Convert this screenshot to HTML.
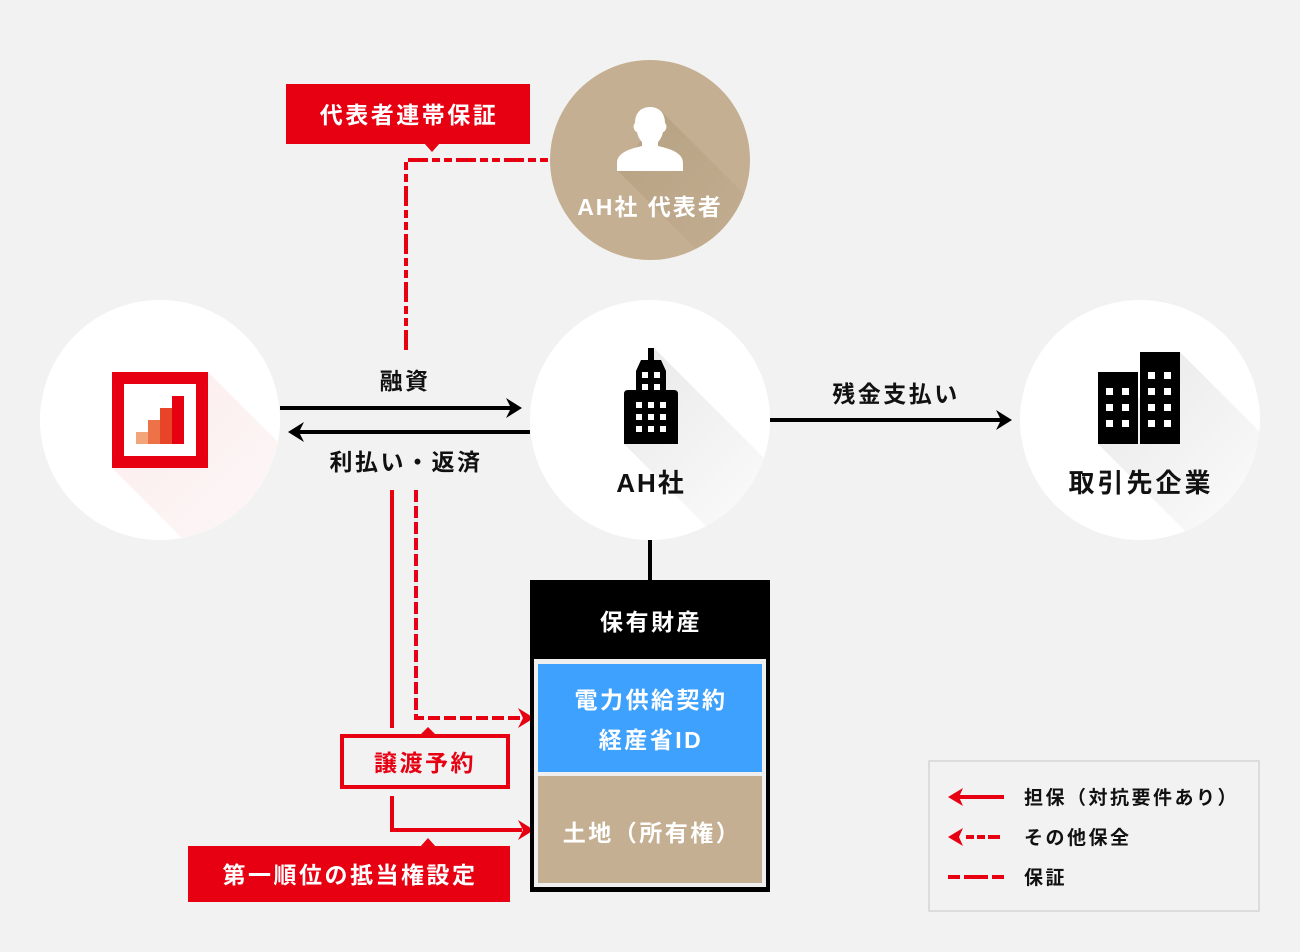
<!DOCTYPE html>
<html><head><meta charset="utf-8"><style>
html,body{margin:0;padding:0;background:#f2f2f2;}
svg{display:block;}
text{font-family:"Liberation Sans","Noto Sans CJK JP",sans-serif;font-weight:700;}
</style></head><body>
<svg width="1300" height="952" viewBox="0 0 1300 952" xmlns="http://www.w3.org/2000/svg">
<defs>
<clipPath id="cL"><circle cx="160" cy="420" r="120"/></clipPath>
<clipPath id="cA"><circle cx="650" cy="420" r="120"/></clipPath>
<clipPath id="cR"><circle cx="1140" cy="420" r="120"/></clipPath>
<clipPath id="cT"><circle cx="650" cy="160" r="100"/></clipPath>
<linearGradient id="gA" gradientUnits="userSpaceOnUse" x1="640" y1="390" x2="770" y2="520"><stop offset="0" stop-color="#ececec"/><stop offset="1" stop-color="#fbfbfb"/></linearGradient>
<linearGradient id="gR" gradientUnits="userSpaceOnUse" x1="1130" y1="390" x2="1260" y2="520"><stop offset="0" stop-color="#ececec"/><stop offset="1" stop-color="#fbfbfb"/></linearGradient>
<linearGradient id="gL" gradientUnits="userSpaceOnUse" x1="160" y1="420" x2="280" y2="540"><stop offset="0" stop-color="#fcefef"/><stop offset="1" stop-color="#fdf8f8"/></linearGradient>
<linearGradient id="gT" gradientUnits="userSpaceOnUse" x1="640" y1="130" x2="740" y2="230"><stop offset="0" stop-color="#b8a385"/><stop offset="1" stop-color="#c1ac8f"/></linearGradient>
</defs>

<!-- circles -->
<circle cx="160" cy="420" r="120" fill="#fff"/>
<circle cx="650" cy="420" r="120" fill="#fff"/>
<circle cx="1140" cy="420" r="120" fill="#fff"/>
<circle cx="650" cy="160" r="100" fill="#c4af92"/>

<!-- long shadows -->
<polygon points="208,372 508,672 412,768 112,468" fill="url(#gL)" clip-path="url(#cL)"/>
<polygon points="654,348 954,648 924,744 624,444" fill="url(#gA)" clip-path="url(#cA)"/>
<polygon points="1180,352 1480,652 1398,744 1098,444" fill="url(#gR)" clip-path="url(#cR)"/>
<polygon points="662,112 962,412 918,471 618,171" fill="url(#gT)" clip-path="url(#cT)"/>

<!-- bank icon -->
<rect x="118" y="378" width="84" height="84" fill="#fff" stroke="#e60012" stroke-width="12"/>
<rect x="136" y="432" width="12" height="12" fill="#f3a57a"/>
<rect x="148" y="420" width="12" height="24" fill="#ee7248"/>
<rect x="160" y="408" width="12" height="36" fill="#e84428"/>
<rect x="172" y="396" width="12" height="48" fill="#e60012"/>

<!-- AH building -->
<rect x="648" y="348" width="6" height="14" fill="#000"/>
<path d="M641,360 H661 L666,371 V392 H636 V371 Z" fill="#000"/>
<path d="M628,390 H674 Q678,390 678,394 V444 H624 V394 Q624,390 628,390 Z" fill="#000"/>
<g fill="#fff">
<rect x="642" y="372" width="6" height="6"/><rect x="654" y="372" width="6" height="6"/>
<rect x="642" y="384" width="6" height="6"/><rect x="654" y="384" width="6" height="6"/>
<rect x="636" y="402" width="6" height="6"/><rect x="648" y="402" width="6" height="6"/><rect x="660" y="402" width="6" height="6"/>
<rect x="636" y="414" width="6" height="6"/><rect x="648" y="414" width="6" height="6"/><rect x="660" y="414" width="6" height="6"/>
<rect x="636" y="426" width="6" height="6"/><rect x="648" y="426" width="6" height="6"/><rect x="660" y="426" width="6" height="6"/>
</g>

<!-- partner buildings -->
<rect x="1098" y="372" width="40" height="72" fill="#000"/>
<rect x="1140" y="352" width="40" height="92" fill="#000"/>
<g fill="#fff">
<rect x="1106" y="388" width="7" height="7"/><rect x="1122" y="388" width="7" height="7"/>
<rect x="1106" y="404" width="7" height="7"/><rect x="1122" y="404" width="7" height="7"/>
<rect x="1106" y="420" width="7" height="7"/><rect x="1122" y="420" width="7" height="7"/>
<rect x="1148" y="372" width="7" height="7"/><rect x="1164" y="372" width="7" height="7"/>
<rect x="1148" y="388" width="7" height="7"/><rect x="1164" y="388" width="7" height="7"/>
<rect x="1148" y="404" width="7" height="7"/><rect x="1164" y="404" width="7" height="7"/>
<rect x="1148" y="420" width="7" height="7"/><rect x="1164" y="420" width="7" height="7"/>
</g>

<!-- person -->
<path d="M650,107 C659,107 665,113 665,123 C666,124 667,126 666,129 C665,131 664,132 663,132 C662,137 660,140 658,142 L658,146 C671,149 683,153 683,163 V171 H617 V163 C617,153 629,149 642,146 L642,142 C640,140 638,137 637,132 C636,132 635,131 634,129 C633,126 634,124 635,123 C635,113 641,107 650,107 Z" fill="#fff"/>

<!-- circle labels -->
<text x="650" y="215" font-size="23" fill="#fff" text-anchor="middle" style="letter-spacing:2px">AH社 代表者</text>
<text x="651" y="492" font-size="26" fill="#111" text-anchor="middle" style="letter-spacing:2px">AH社</text>
<text x="1141" y="492" font-size="26" fill="#111" text-anchor="middle" style="letter-spacing:3px">取引先企業</text>

<!-- guarantee dash-dot line -->
<path d="M406,350 V160 H550" fill="none" stroke="#e60012" stroke-width="4" stroke-dasharray="20 4 8 4 8 4"/>

<!-- 代表者連帯保証 -->
<rect x="286" y="84" width="244" height="60" fill="#e60012"/>
<polygon points="424,143 440,143 432,152" fill="#e60012"/>
<text x="409" y="123" font-size="23" fill="#fff" text-anchor="middle" style="letter-spacing:2.5px">代表者連帯保証</text>

<!-- black arrows -->
<line x1="280" y1="408" x2="512" y2="408" stroke="#000" stroke-width="4"/>
<path d="M522,408 L506,398 L511,408 L506,418 Z" fill="#000"/>
<line x1="530" y1="432" x2="298" y2="432" stroke="#000" stroke-width="4"/>
<path d="M288,432 L304,422 L299,432 L304,442 Z" fill="#000"/>
<line x1="770" y1="420" x2="1002" y2="420" stroke="#000" stroke-width="4"/>
<path d="M1012,420 L996,410 L1001,420 L996,430 Z" fill="#000"/>
<line x1="650" y1="540" x2="650" y2="580" stroke="#000" stroke-width="4"/>

<text x="405" y="389" font-size="23" fill="#111" text-anchor="middle" style="letter-spacing:2.5px">融資</text>
<text x="406" y="470" font-size="23" fill="#111" text-anchor="middle" style="letter-spacing:2.5px">利払い・返済</text>
<text x="896" y="402" font-size="23" fill="#111" text-anchor="middle" style="letter-spacing:2.5px">残金支払い</text>

<!-- red connectors -->
<path d="M416,490 V718 H522" fill="none" stroke="#e60012" stroke-width="4" stroke-dasharray="12 4"/>
<path d="M534,718 L518,708 L523,718 L518,728 Z" fill="#e60012"/>
<line x1="392" y1="490" x2="392" y2="728" stroke="#e60012" stroke-width="4"/>
<path d="M392,796 V830 H522" fill="none" stroke="#e60012" stroke-width="4"/>
<path d="M534,830 L518,820 L523,830 L518,840 Z" fill="#e60012"/>

<!-- 譲渡予約 -->
<rect x="342" y="736" width="166" height="51" fill="#f2f2f2" stroke="#e60012" stroke-width="4"/>
<polygon points="420,735 436,735 428,727" fill="#e60012"/>
<text x="425" y="771" font-size="23" fill="#e60012" text-anchor="middle" style="letter-spacing:2.5px">譲渡予約</text>

<!-- 第一順位の抵当権設定 -->
<rect x="188" y="846" width="322" height="56" fill="#e60012"/>
<polygon points="420,847 436,847 428,838" fill="#e60012"/>
<text x="350" y="883" font-size="23" fill="#fff" text-anchor="middle" style="letter-spacing:2.5px">第一順位の抵当権設定</text>

<!-- 保有財産 -->
<rect x="530" y="580" width="240" height="312" fill="#000"/>
<rect x="534" y="659" width="232" height="228" fill="#efefef"/>
<rect x="538" y="664" width="224" height="108" fill="#3fa1fe"/>
<rect x="538" y="776" width="224" height="107" fill="#c4af92"/>
<text x="651" y="630" font-size="23" fill="#fff" text-anchor="middle" style="letter-spacing:2.5px">保有財産</text>
<text x="651" y="708" font-size="23" fill="#fff" text-anchor="middle" style="letter-spacing:2.5px">電力供給契約</text>
<text x="651" y="748" font-size="23" fill="#fff" text-anchor="middle" style="letter-spacing:2.5px">経産省ID</text>
<text x="652" y="841" font-size="23" fill="#fff" text-anchor="middle" style="letter-spacing:2.5px">土地（所有権）</text>

<!-- legend -->
<rect x="929" y="761" width="330" height="150" fill="#f2f2f2" stroke="#dcdcdc" stroke-width="2"/>
<line x1="958" y1="797" x2="1004" y2="797" stroke="#e60012" stroke-width="4"/>
<path d="M948,797 L963,788 L959,797 L963,806 Z" fill="#e60012"/>
<line x1="962" y1="837" x2="1004" y2="837" stroke="#e60012" stroke-width="4" stroke-dasharray="0 4 8 3 8 3 8"/>
<path d="M948,837 L963,828 L959,837 L963,846 Z" fill="#e60012"/>
<line x1="948" y1="877" x2="1004" y2="877" stroke="#e60012" stroke-width="4" stroke-dasharray="12 4 24 4 12"/>
<text x="1024" y="804" font-size="19" fill="#111" style="letter-spacing:2.5px">担保（対抗要件あり）</text>
<text x="1024" y="844" font-size="19" fill="#111" style="letter-spacing:2.5px">その他保全</text>
<text x="1024" y="884" font-size="19" fill="#111" style="letter-spacing:2.5px">保証</text>
</svg>
</body></html>
